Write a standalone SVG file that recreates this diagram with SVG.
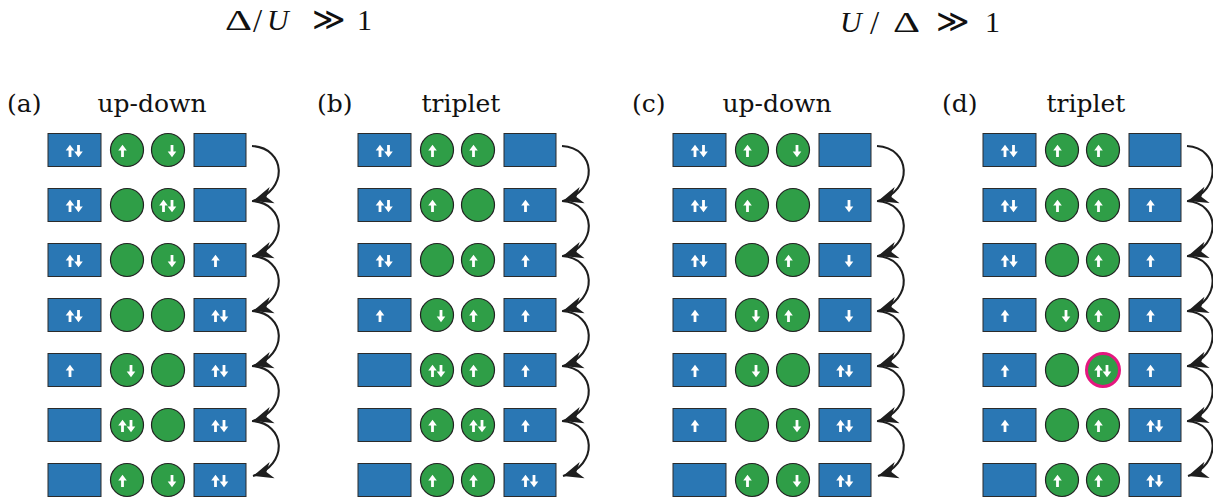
<svg xmlns="http://www.w3.org/2000/svg" xmlns:xlink="http://www.w3.org/1999/xlink" width="1213" height="504" viewBox="0 0 1213 504">
<style>
.b{fill:#2a77b4;stroke:#2b2b2b;stroke-width:1}
.s{fill:#2f9e47;stroke:#222;stroke-width:1.2}
.m{fill:#2f9e47;stroke:#e4177f;stroke-width:3}
.sp{fill:#fff}
.lab{font-family:"DejaVu Serif","Liberation Serif",serif;font-size:25px;fill:#111}
.ttl{font-family:"Liberation Serif","DejaVu Serif",serif;font-size:30px;fill:#111}
.gg{font-size:32px}
.arr{fill:none;stroke:#1e1e1e;stroke-width:2.1;marker-end:url(#ah)}
</style>
<defs>
<path id="u" class="sp" d="M0,-6.2 L4.3,-0.6 L1.4,-0.6 L1.4,6 L-1.4,6 L-1.4,-0.6 L-4.3,-0.6 Z"/>
<path id="d" class="sp" d="M0,6.2 L4.3,0.6 L1.4,0.6 L1.4,-6 L-1.4,-6 L-1.4,0.6 L-4.3,0.6 Z"/>
<marker id="ah" markerUnits="userSpaceOnUse" viewBox="-22 -10 23 20" markerWidth="23" markerHeight="20" refX="0" refY="0" orient="auto">
<path d="M0,0 L-20,-8.5 L-14,0 L-20,8.5 Z" fill="#1e1e1e"/>
</marker>
</defs>

<g id="titles" class="ttl">
<text transform="translate(225,30) scale(1.4,1)">Δ</text>
<text x="253" y="32" font-size="33">/</text>
<text x="267" y="30" font-style="italic">U</text>
<text x="312" y="30" class="gg">≫</text>
<text x="357" y="30">1</text>
<text x="840" y="32" font-style="italic">U</text>
<text x="870" y="34" font-size="33">/</text>
<text transform="translate(893,32) scale(1.4,1)">Δ</text>
<text x="936" y="32" class="gg">≫</text>
<text x="985" y="32">1</text>
</g>

<g id="labels" class="lab">
<text x="7" y="112">(a)</text><text x="152" y="112" text-anchor="middle">up-down</text>
<text x="317" y="112">(b)</text><text x="461" y="112" text-anchor="middle">triplet</text>
<text x="632" y="112">(c)</text><text x="777" y="112" text-anchor="middle">up-down</text>
<text x="942" y="112">(d)</text><text x="1086" y="112" text-anchor="middle">triplet</text>
</g>

<!-- Panel A -->
<g id="a1L"><rect class="b" x="48" y="133.5" width="53" height="33"/><use href="#u" x="70" y="151"/><use href="#d" x="78.5" y="151"/></g>
<g id="a1c1"><circle class="s" cx="127" cy="150" r="16.5"/><use href="#u" x="122.5" y="151"/></g>
<g id="a1c2"><circle class="s" cx="168" cy="150" r="16.5"/><use href="#d" x="172" y="151"/></g>
<g id="a1R"><rect class="b" x="194" y="133.5" width="52" height="33"/></g>

<g id="a2L"><rect class="b" x="48" y="188.5" width="53" height="33"/><use href="#u" x="70" y="206"/><use href="#d" x="78.5" y="206"/></g>
<g id="a2c1"><circle class="s" cx="127" cy="205" r="16.5"/></g>
<g id="a2c2"><circle class="s" cx="168" cy="205" r="16.5"/><use href="#u" x="163.5" y="206"/><use href="#d" x="172" y="206"/></g>
<g id="a2R"><rect class="b" x="194" y="188.5" width="52" height="33"/></g>

<g id="a3L"><rect class="b" x="48" y="243.5" width="53" height="33"/><use href="#u" x="70" y="261"/><use href="#d" x="78.5" y="261"/></g>
<g id="a3c1"><circle class="s" cx="127" cy="260" r="16.5"/></g>
<g id="a3c2"><circle class="s" cx="168" cy="260" r="16.5"/><use href="#d" x="172" y="261"/></g>
<g id="a3R"><rect class="b" x="194" y="243.5" width="52" height="33"/><use href="#u" x="215.5" y="261"/></g>

<g id="a4L"><rect class="b" x="48" y="298.5" width="53" height="33"/><use href="#u" x="70" y="316"/><use href="#d" x="78.5" y="316"/></g>
<g id="a4c1"><circle class="s" cx="127" cy="315" r="16.5"/></g>
<g id="a4c2"><circle class="s" cx="168" cy="315" r="16.5"/></g>
<g id="a4R"><rect class="b" x="194" y="298.5" width="52" height="33"/><use href="#u" x="215.5" y="316"/><use href="#d" x="224" y="316"/></g>

<g id="a5L"><rect class="b" x="48" y="353.5" width="53" height="33"/><use href="#u" x="70" y="371"/></g>
<g id="a5c1"><circle class="s" cx="127" cy="370" r="16.5"/><use href="#d" x="131" y="371"/></g>
<g id="a5c2"><circle class="s" cx="168" cy="370" r="16.5"/></g>
<g id="a5R"><rect class="b" x="194" y="353.5" width="52" height="33"/><use href="#u" x="215.5" y="371"/><use href="#d" x="224" y="371"/></g>

<g id="a6L"><rect class="b" x="48" y="408.5" width="53" height="33"/></g>
<g id="a6c1"><circle class="s" cx="127" cy="425" r="16.5"/><use href="#u" x="122.5" y="426"/><use href="#d" x="131" y="426"/></g>
<g id="a6c2"><circle class="s" cx="168" cy="425" r="16.5"/></g>
<g id="a6R"><rect class="b" x="194" y="408.5" width="52" height="33"/><use href="#u" x="215.5" y="426"/><use href="#d" x="224" y="426"/></g>

<g id="a7L"><rect class="b" x="48" y="463.5" width="53" height="33"/></g>
<g id="a7c1"><circle class="s" cx="127" cy="480" r="16.5"/><use href="#u" x="122.5" y="481"/></g>
<g id="a7c2"><circle class="s" cx="168" cy="480" r="16.5"/><use href="#d" x="172" y="481"/></g>
<g id="a7R"><rect class="b" x="194" y="463.5" width="52" height="33"/><use href="#u" x="215.5" y="481"/><use href="#d" x="224" y="481"/></g>

<!-- Panel B -->
<g id="b1L"><rect class="b" x="358" y="133.5" width="53" height="33"/><use href="#u" x="380" y="151"/><use href="#d" x="388.5" y="151"/></g>
<g id="b1c1"><circle class="s" cx="437" cy="150" r="16.5"/><use href="#u" x="432.5" y="151"/></g>
<g id="b1c2"><circle class="s" cx="478" cy="150" r="16.5"/><use href="#u" x="473.5" y="151"/></g>
<g id="b1R"><rect class="b" x="504" y="133.5" width="52" height="33"/></g>

<g id="b2L"><rect class="b" x="358" y="188.5" width="53" height="33"/><use href="#u" x="380" y="206"/><use href="#d" x="388.5" y="206"/></g>
<g id="b2c1"><circle class="s" cx="437" cy="205" r="16.5"/><use href="#u" x="432.5" y="206"/></g>
<g id="b2c2"><circle class="s" cx="478" cy="205" r="16.5"/></g>
<g id="b2R"><rect class="b" x="504" y="188.5" width="52" height="33"/><use href="#u" x="525.5" y="206"/></g>

<g id="b3L"><rect class="b" x="358" y="243.5" width="53" height="33"/><use href="#u" x="380" y="261"/><use href="#d" x="388.5" y="261"/></g>
<g id="b3c1"><circle class="s" cx="437" cy="260" r="16.5"/></g>
<g id="b3c2"><circle class="s" cx="478" cy="260" r="16.5"/><use href="#u" x="473.5" y="261"/></g>
<g id="b3R"><rect class="b" x="504" y="243.5" width="52" height="33"/><use href="#u" x="525.5" y="261"/></g>

<g id="b4L"><rect class="b" x="358" y="298.5" width="53" height="33"/><use href="#u" x="380" y="316"/></g>
<g id="b4c1"><circle class="s" cx="437" cy="315" r="16.5"/><use href="#d" x="441" y="316"/></g>
<g id="b4c2"><circle class="s" cx="478" cy="315" r="16.5"/><use href="#u" x="473.5" y="316"/></g>
<g id="b4R"><rect class="b" x="504" y="298.5" width="52" height="33"/><use href="#u" x="525.5" y="316"/></g>

<g id="b5L"><rect class="b" x="358" y="353.5" width="53" height="33"/></g>
<g id="b5c1"><circle class="s" cx="437" cy="370" r="16.5"/><use href="#u" x="432.5" y="371"/><use href="#d" x="441" y="371"/></g>
<g id="b5c2"><circle class="s" cx="478" cy="370" r="16.5"/><use href="#u" x="473.5" y="371"/></g>
<g id="b5R"><rect class="b" x="504" y="353.5" width="52" height="33"/><use href="#u" x="525.5" y="371"/></g>

<g id="b6L"><rect class="b" x="358" y="408.5" width="53" height="33"/></g>
<g id="b6c1"><circle class="s" cx="437" cy="425" r="16.5"/><use href="#u" x="432.5" y="426"/></g>
<g id="b6c2"><circle class="s" cx="478" cy="425" r="16.5"/><use href="#u" x="473.5" y="426"/><use href="#d" x="482" y="426"/></g>
<g id="b6R"><rect class="b" x="504" y="408.5" width="52" height="33"/><use href="#u" x="525.5" y="426"/></g>

<g id="b7L"><rect class="b" x="358" y="463.5" width="53" height="33"/></g>
<g id="b7c1"><circle class="s" cx="437" cy="480" r="16.5"/><use href="#u" x="432.5" y="481"/></g>
<g id="b7c2"><circle class="s" cx="478" cy="480" r="16.5"/><use href="#u" x="473.5" y="481"/></g>
<g id="b7R"><rect class="b" x="504" y="463.5" width="52" height="33"/><use href="#u" x="525.5" y="481"/><use href="#d" x="534" y="481"/></g>

<!-- Panel C -->
<g id="c1L"><rect class="b" x="673" y="133.5" width="53" height="33"/><use href="#u" x="695" y="151"/><use href="#d" x="703.5" y="151"/></g>
<g id="c1c1"><circle class="s" cx="752" cy="150" r="16.5"/><use href="#u" x="747.5" y="151"/></g>
<g id="c1c2"><circle class="s" cx="793" cy="150" r="16.5"/><use href="#d" x="797" y="151"/></g>
<g id="c1R"><rect class="b" x="819" y="133.5" width="52" height="33"/></g>

<g id="c2L"><rect class="b" x="673" y="188.5" width="53" height="33"/><use href="#u" x="695" y="206"/><use href="#d" x="703.5" y="206"/></g>
<g id="c2c1"><circle class="s" cx="752" cy="205" r="16.5"/><use href="#u" x="747.5" y="206"/></g>
<g id="c2c2"><circle class="s" cx="793" cy="205" r="16.5"/></g>
<g id="c2R"><rect class="b" x="819" y="188.5" width="52" height="33"/><use href="#d" x="849" y="206"/></g>

<g id="c3L"><rect class="b" x="673" y="243.5" width="53" height="33"/><use href="#u" x="695" y="261"/><use href="#d" x="703.5" y="261"/></g>
<g id="c3c1"><circle class="s" cx="752" cy="260" r="16.5"/></g>
<g id="c3c2"><circle class="s" cx="793" cy="260" r="16.5"/><use href="#u" x="788.5" y="261"/></g>
<g id="c3R"><rect class="b" x="819" y="243.5" width="52" height="33"/><use href="#d" x="849" y="261"/></g>

<g id="c4L"><rect class="b" x="673" y="298.5" width="53" height="33"/><use href="#u" x="695" y="316"/></g>
<g id="c4c1"><circle class="s" cx="752" cy="315" r="16.5"/><use href="#d" x="756" y="316"/></g>
<g id="c4c2"><circle class="s" cx="793" cy="315" r="16.5"/><use href="#u" x="788.5" y="316"/></g>
<g id="c4R"><rect class="b" x="819" y="298.5" width="52" height="33"/><use href="#d" x="849" y="316"/></g>

<g id="c5L"><rect class="b" x="673" y="353.5" width="53" height="33"/><use href="#u" x="695" y="371"/></g>
<g id="c5c1"><circle class="s" cx="752" cy="370" r="16.5"/><use href="#d" x="756" y="371"/></g>
<g id="c5c2"><circle class="s" cx="793" cy="370" r="16.5"/></g>
<g id="c5R"><rect class="b" x="819" y="353.5" width="52" height="33"/><use href="#u" x="840.5" y="371"/><use href="#d" x="849" y="371"/></g>

<g id="c6L"><rect class="b" x="673" y="408.5" width="53" height="33"/><use href="#u" x="695" y="426"/></g>
<g id="c6c1"><circle class="s" cx="752" cy="425" r="16.5"/></g>
<g id="c6c2"><circle class="s" cx="793" cy="425" r="16.5"/><use href="#d" x="797" y="426"/></g>
<g id="c6R"><rect class="b" x="819" y="408.5" width="52" height="33"/><use href="#u" x="840.5" y="426"/><use href="#d" x="849" y="426"/></g>

<g id="c7L"><rect class="b" x="673" y="463.5" width="53" height="33"/></g>
<g id="c7c1"><circle class="s" cx="752" cy="480" r="16.5"/><use href="#u" x="747.5" y="481"/></g>
<g id="c7c2"><circle class="s" cx="793" cy="480" r="16.5"/><use href="#d" x="797" y="481"/></g>
<g id="c7R"><rect class="b" x="819" y="463.5" width="52" height="33"/><use href="#u" x="840.5" y="481"/><use href="#d" x="849" y="481"/></g>

<!-- Panel D -->
<g id="d1L"><rect class="b" x="983" y="133.5" width="53" height="33"/><use href="#u" x="1005" y="151"/><use href="#d" x="1013.5" y="151"/></g>
<g id="d1c1"><circle class="s" cx="1062" cy="150" r="16.5"/><use href="#u" x="1057.5" y="151"/></g>
<g id="d1c2"><circle class="s" cx="1103" cy="150" r="16.5"/><use href="#u" x="1098.5" y="151"/></g>
<g id="d1R"><rect class="b" x="1129" y="133.5" width="52" height="33"/></g>

<g id="d2L"><rect class="b" x="983" y="188.5" width="53" height="33"/><use href="#u" x="1005" y="206"/><use href="#d" x="1013.5" y="206"/></g>
<g id="d2c1"><circle class="s" cx="1062" cy="205" r="16.5"/><use href="#u" x="1057.5" y="206"/></g>
<g id="d2c2"><circle class="s" cx="1103" cy="205" r="16.5"/><use href="#u" x="1098.5" y="206"/></g>
<g id="d2R"><rect class="b" x="1129" y="188.5" width="52" height="33"/><use href="#u" x="1150.5" y="206"/></g>

<g id="d3L"><rect class="b" x="983" y="243.5" width="53" height="33"/><use href="#u" x="1005" y="261"/><use href="#d" x="1013.5" y="261"/></g>
<g id="d3c1"><circle class="s" cx="1062" cy="260" r="16.5"/></g>
<g id="d3c2"><circle class="s" cx="1103" cy="260" r="16.5"/><use href="#u" x="1098.5" y="261"/></g>
<g id="d3R"><rect class="b" x="1129" y="243.5" width="52" height="33"/><use href="#u" x="1150.5" y="261"/></g>

<g id="d4L"><rect class="b" x="983" y="298.5" width="53" height="33"/><use href="#u" x="1005" y="316"/></g>
<g id="d4c1"><circle class="s" cx="1062" cy="315" r="16.5"/><use href="#d" x="1066" y="316"/></g>
<g id="d4c2"><circle class="s" cx="1103" cy="315" r="16.5"/><use href="#u" x="1098.5" y="316"/></g>
<g id="d4R"><rect class="b" x="1129" y="298.5" width="52" height="33"/><use href="#u" x="1150.5" y="316"/></g>

<g id="d5L"><rect class="b" x="983" y="353.5" width="53" height="33"/><use href="#u" x="1005" y="371"/></g>
<g id="d5c1"><circle class="s" cx="1062" cy="370" r="16.5"/></g>
<g id="d5c2"><circle class="m" cx="1103" cy="370" r="16.5"/><use href="#u" x="1098.5" y="371"/><use href="#d" x="1107" y="371"/></g>
<g id="d5R"><rect class="b" x="1129" y="353.5" width="52" height="33"/><use href="#u" x="1150.5" y="371"/></g>

<g id="d6L"><rect class="b" x="983" y="408.5" width="53" height="33"/><use href="#u" x="1005" y="426"/></g>
<g id="d6c1"><circle class="s" cx="1062" cy="425" r="16.5"/></g>
<g id="d6c2"><circle class="s" cx="1103" cy="425" r="16.5"/><use href="#u" x="1098.5" y="426"/></g>
<g id="d6R"><rect class="b" x="1129" y="408.5" width="52" height="33"/><use href="#u" x="1150.5" y="426"/><use href="#d" x="1159" y="426"/></g>

<g id="d7L"><rect class="b" x="983" y="463.5" width="53" height="33"/></g>
<g id="d7c1"><circle class="s" cx="1062" cy="480" r="16.5"/><use href="#u" x="1057.5" y="481"/></g>
<g id="d7c2"><circle class="s" cx="1103" cy="480" r="16.5"/><use href="#u" x="1098.5" y="481"/></g>
<g id="d7R"><rect class="b" x="1129" y="463.5" width="52" height="33"/><use href="#u" x="1150.5" y="481"/><use href="#d" x="1159" y="481"/></g>

<g id="connectors">
<path class="arr" d="M252,146 C286,148 289,190 253,201"/>
<path class="arr" d="M252,201 C286,203 289,245 253,256"/>
<path class="arr" d="M252,256 C286,258 289,300 253,311"/>
<path class="arr" d="M252,311 C286,313 289,355 253,366"/>
<path class="arr" d="M252,366 C286,368 289,410 253,421"/>
<path class="arr" d="M252,421 C286,423 289,465 253,476"/>

<path class="arr" d="M562,146 C596,148 599,190 563,201"/>
<path class="arr" d="M562,201 C596,203 599,245 563,256"/>
<path class="arr" d="M562,256 C596,258 599,300 563,311"/>
<path class="arr" d="M562,311 C596,313 599,355 563,366"/>
<path class="arr" d="M562,366 C596,368 599,410 563,421"/>
<path class="arr" d="M562,421 C596,423 599,465 563,476"/>

<path class="arr" d="M877,146 C911,148 914,190 878,201"/>
<path class="arr" d="M877,201 C911,203 914,245 878,256"/>
<path class="arr" d="M877,256 C911,258 914,300 878,311"/>
<path class="arr" d="M877,311 C911,313 914,355 878,366"/>
<path class="arr" d="M877,366 C911,368 914,410 878,421"/>
<path class="arr" d="M877,421 C911,423 914,465 878,476"/>

<path class="arr" d="M1187,146 C1220,148 1222,190 1188,201"/>
<path class="arr" d="M1187,201 C1220,203 1222,245 1188,256"/>
<path class="arr" d="M1187,256 C1220,258 1222,300 1188,311"/>
<path class="arr" d="M1187,311 C1220,313 1222,355 1188,366"/>
<path class="arr" d="M1187,366 C1220,368 1222,410 1188,421"/>
<path class="arr" d="M1187,421 C1220,423 1222,465 1188,476"/>
</g>
</svg>
